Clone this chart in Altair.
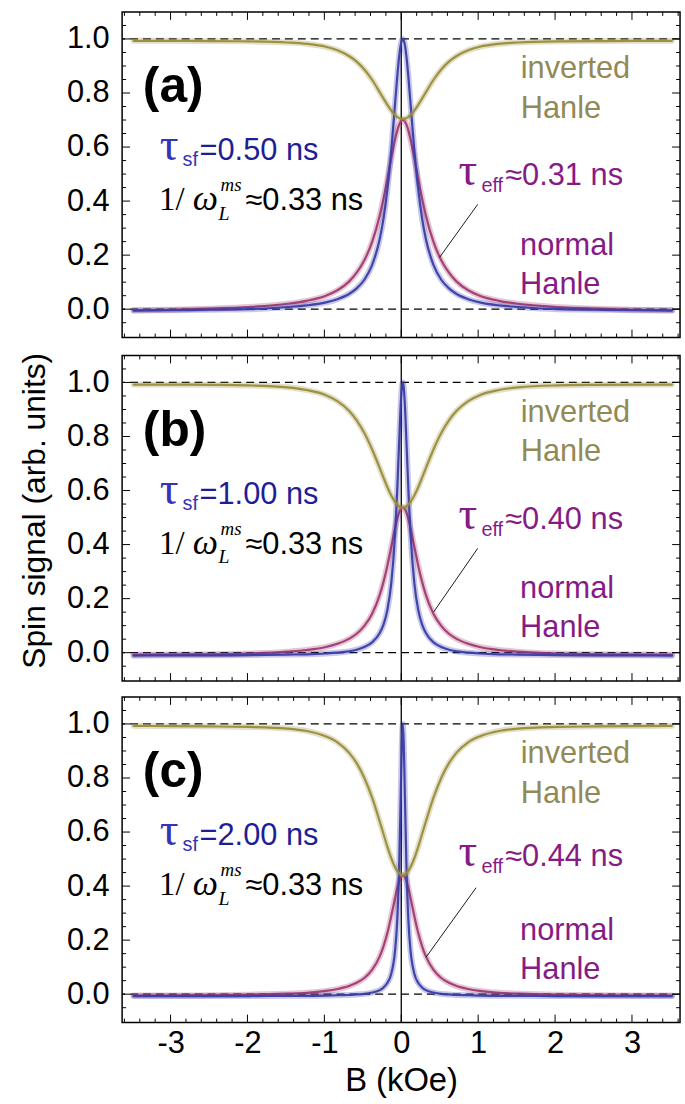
import altair as alt
import pandas as pd

# ---------------- data ----------------
B = [-3.48, -2.98, -2.48, -1.98, -1.48, -1.23, -0.98, -0.83, -0.68, -0.58, -0.48,
     -0.38, -0.28, -0.23, -0.18, -0.13, -0.08, -0.055, -0.03, -0.005, 0.0075,
     0.02,
     0.0325, 0.045, 0.07, 0.095, 0.12, 0.17, 0.22, 0.27, 0.32, 0.42, 0.52,
     0.62, 0.72, 0.87, 1.02, 1.27, 1.52, 2.02, 2.52, 3.02, 3.52]

blue_a = [-0.005, -0.004, -0.002, 0.000, 0.008, 0.014, 0.025, 0.037, 0.056, 0.077, 0.109, 0.163, 0.260, 0.337, 0.444, 0.588, 0.763, 0.851, 0.928, 0.981, 0.995,
          1.000,
          0.995, 0.981, 0.928, 0.851, 0.763, 0.588, 0.444, 0.337, 0.260, 0.163, 0.109, 0.077, 0.056, 0.037, 0.025, 0.014, 0.008, 0.000, -0.002, -0.004, -0.005]
purple_a = [-0.004, -0.002, 0.002, 0.008, 0.020, 0.031, 0.050, 0.070, 0.102, 0.135, 0.181, 0.248, 0.347, 0.411, 0.483, 0.559, 0.629, 0.658, 0.681, 0.695, 0.699,
            0.700,
            0.699, 0.695, 0.681, 0.658, 0.629, 0.559, 0.483, 0.411, 0.347, 0.248, 0.181, 0.135, 0.102, 0.070, 0.050, 0.031, 0.020, 0.008, 0.002, -0.002, -0.004]
olive_a = [0.993, 0.993, 0.992, 0.991, 0.987, 0.982, 0.971, 0.958, 0.937, 0.916, 0.887, 0.849, 0.803, 0.779, 0.756, 0.735, 0.718, 0.712, 0.708, 0.705, 0.704,
           0.704,
           0.704, 0.705, 0.708, 0.712, 0.718, 0.735, 0.756, 0.779, 0.803, 0.849, 0.887, 0.916, 0.937, 0.958, 0.971, 0.982, 0.987, 0.991, 0.992, 0.993, 0.993]

blue_b = [-0.011, -0.010, -0.010, -0.009, -0.007, -0.006, -0.003, 0.000, 0.005, 0.011, 0.021, 0.038, 0.073, 0.105, 0.159, 0.257, 0.441, 0.586, 0.762, 0.928, 0.981,
          1.000,
          0.981, 0.928, 0.762, 0.586, 0.441, 0.257, 0.159, 0.105, 0.073, 0.038, 0.021, 0.011, 0.005, 0.000, -0.003, -0.006, -0.007, -0.009, -0.010, -0.010, -0.011]
purple_b = [-0.008, -0.007, -0.006, -0.003, 0.004, 0.010, 0.021, 0.033, 0.051, 0.070, 0.099, 0.143, 0.214, 0.263, 0.323, 0.392, 0.461, 0.492, 0.516, 0.532, 0.536,
            0.537,
            0.536, 0.532, 0.516, 0.492, 0.461, 0.392, 0.323, 0.263, 0.214, 0.143, 0.099, 0.070, 0.051, 0.033, 0.021, 0.010, 0.004, -0.003, -0.006, -0.007, -0.008]
olive_b = [0.992, 0.992, 0.991, 0.989, 0.982, 0.972, 0.953, 0.931, 0.895, 0.860, 0.813, 0.753, 0.683, 0.647, 0.612, 0.582, 0.558, 0.549, 0.542, 0.538, 0.537,
           0.537,
           0.537, 0.538, 0.542, 0.549, 0.558, 0.582, 0.612, 0.647, 0.683, 0.753, 0.813, 0.860, 0.895, 0.931, 0.953, 0.972, 0.982, 0.989, 0.991, 0.992, 0.992]

blue_c = [-0.007, -0.007, -0.007, -0.007, -0.006, -0.006, -0.005, -0.004, -0.003, -0.001, 0.001, 0.006, 0.015, 0.025, 0.042, 0.076, 0.163, 0.260, 0.444, 0.763, 0.928,
          1.000,
          0.928, 0.763, 0.444, 0.260, 0.163, 0.076, 0.042, 0.025, 0.015, 0.006, 0.001, -0.001, -0.003, -0.004, -0.005, -0.006, -0.006, -0.007, -0.007, -0.007, -0.007]
purple_c = [-0.005, -0.005, -0.004, -0.002, 0.002, 0.005, 0.012, 0.019, 0.030, 0.042, 0.060, 0.090, 0.140, 0.178, 0.227, 0.289, 0.357, 0.389, 0.416, 0.434, 0.438,
            0.440,
            0.438, 0.434, 0.416, 0.389, 0.357, 0.289, 0.227, 0.178, 0.140, 0.090, 0.060, 0.042, 0.030, 0.019, 0.012, 0.005, 0.002, -0.002, -0.004, -0.005, -0.005]
olive_c = [0.993, 0.992, 0.991, 0.989, 0.983, 0.974, 0.954, 0.932, 0.894, 0.855, 0.800, 0.728, 0.639, 0.592, 0.545, 0.503, 0.470, 0.457, 0.448, 0.442, 0.440,
           0.440,
           0.440, 0.442, 0.448, 0.457, 0.470, 0.503, 0.545, 0.592, 0.639, 0.728, 0.800, 0.855, 0.894, 0.932, 0.954, 0.974, 0.983, 0.989, 0.991, 0.992, 0.993]

PANELS = ["a", "b", "c"]
CURVES = {
    "a": {"normal": purple_a, "tau_sf": blue_a, "inverted": olive_a},
    "b": {"normal": purple_b, "tau_sf": blue_b, "inverted": olive_b},
    "c": {"normal": purple_c, "tau_sf": blue_c, "inverted": olive_c},
}
TAU_SF = ["0.50", "1.00", "2.00"]
TAU_EFF = ["0.31", "0.40", "0.44"]
TAU_EFF_Y = [0.459, 0.456, 0.474]
LINE_FROM = [(0.994, 0.388), (0.994, 0.386), (0.973, 0.394)]
LINE_TO = [(0.499, 0.192), (0.422, 0.151), (0.323, 0.137)]

X_LABELS = [-3, -2, -1, 0, 1, 2, 3]
Y_LABELS = [0.0, 0.2, 0.4, 0.6, 0.8, 1.0]
X_MINOR = [-3.6, -3.4, -3.2, -2.8, -2.6, -2.4, -2.2, -1.8, -1.6, -1.4, -1.2,
           -0.8, -0.6, -0.4, -0.2, 0.2, 0.4, 0.6, 0.8, 1.2, 1.4, 1.6, 1.8,
           2.2, 2.4, 2.6, 2.8, 3.2, 3.4, 3.6]
Y_MINOR = [-0.05, 0.05, 0.1, 0.15, 0.25, 0.3, 0.35, 0.45, 0.5, 0.55, 0.65,
           0.7, 0.75, 0.85, 0.9, 0.95, 1.05]

# ---------------- styling ----------------
W, H = 562, 328
XD = [-3.63, 3.625]
YD = [-0.105, 1.1]
SANS = "Liberation Sans"
SERIF = "Liberation Serif"
FS = 31
CURVE_COL = {"normal": "#a23a70", "tau_sf": "#3a3ca8", "inverted": "#998d3a"}
BLUE_TXT = "#1e1e96"
TAU_BLUE = "#3434b4"
PURP_TXT = "#861b86"
OLIVE_TXT = "#918a55"

xs = alt.Scale(domain=XD, nice=False, zero=False)
ys = alt.Scale(domain=YD, nice=False, zero=False)


def make_panel(i):
    p = PANELS[i]
    last = (i == 2)
    if last:
        xaxis = alt.Axis(values=X_LABELS, ticks=False, tickSize=0, domain=False, grid=False,
                         labelFontSize=FS, labelFont=SANS, labelColor="black", labelPadding=6,
                         labelExpr="replace(datum.label, '\u2212', '-')",
                         title="B (kOe)", titleFontSize=33, titleFont=SANS,
                         titleFontWeight="normal", titleColor="black", titlePadding=6)
    else:
        xaxis = None
    if i == 1:
        yaxis = alt.Axis(values=Y_LABELS, format=".1f", ticks=False, tickSize=0, domain=False,
                         grid=False, labelFontSize=FS, labelFont=SANS, labelColor="black",
                         labelPadding=13, title="Spin signal (arb. units)", titleFontSize=32,
                         titleFont=SANS, titleFontWeight="normal", titleColor="black",
                         titlePadding=15, titleY=156)
    else:
        yaxis = alt.Axis(values=Y_LABELS, format=".1f", ticks=False, tickSize=0, domain=False,
                         grid=False, labelFontSize=FS, labelFont=SANS, labelColor="black",
                         labelPadding=13, title=None)

    def X(f):
        return alt.X(f"{f}:Q", scale=xs, axis=xaxis)

    def Y(f):
        return alt.Y(f"{f}:Q", scale=ys, axis=yaxis)

    layers = []
    # dashed reference lines and B=0 line
    layers.append(alt.Chart(pd.DataFrame({"h": [0.0, 1.0]})).mark_rule(
        color="black", strokeDash=[8, 5], strokeWidth=1.2).encode(y=Y("h")))
    layers.append(alt.Chart(pd.DataFrame({"z": [0.0]})).mark_rule(
        color="black", strokeWidth=1.3).encode(x=X("z")))

    # curves
    rows = []
    for name in ["normal", "tau_sf", "inverted"]:
        vals = CURVES[p][name]
        df = pd.DataFrame({"B": B, "v": vals})
        df["series"] = name
        rows.append(df)
    cdf = pd.concat(rows, ignore_index=True)
    color = alt.Color("series:N", scale=alt.Scale(domain=list(CURVE_COL.keys()),
                                                   range=list(CURVE_COL.values())), legend=None)
    for name in ["normal", "tau_sf", "inverted"]:
        sub = cdf[cdf.series == name]
        layers.append(alt.Chart(sub).mark_line(strokeWidth=6, opacity=0.28, interpolate="monotone",
                                               strokeCap="round").encode(x=X("B"), y=Y("v"), color=color))
        layers.append(alt.Chart(sub).mark_line(strokeWidth=2.2, opacity=0.95, interpolate="monotone",
                                               strokeCap="round").encode(x=X("B"), y=Y("v"), color=color))

    # frame ticks (inward)
    def yticks(vals, ln):
        d = pd.DataFrame({"t": vals})
        left = alt.Chart(d).mark_rule(color="black", strokeWidth=1).encode(
            y=Y("t"), x=alt.value(0), x2=alt.value(ln))
        right = alt.Chart(d).mark_rule(color="black", strokeWidth=1).encode(
            y=Y("t"), x=alt.value(W - ln), x2=alt.value(W))
        return [left, right]

    def xticks(vals, ln):
        d = pd.DataFrame({"t": vals})
        top = alt.Chart(d).mark_rule(color="black", strokeWidth=1).encode(
            x=X("t"), y=alt.value(0), y2=alt.value(ln))
        bot = alt.Chart(d).mark_rule(color="black", strokeWidth=1).encode(
            x=X("t"), y=alt.value(H - ln), y2=alt.value(H))
        return [top, bot]

    layers += yticks(Y_LABELS, 8) + yticks(Y_MINOR, 4) + xticks(X_LABELS, 8) + xticks(X_MINOR, 4)

    # pointer line
    (x1, y1), (x2, y2) = LINE_FROM[i], LINE_TO[i]
    layers.append(alt.Chart(pd.DataFrame({"x": [x1], "y": [y1], "x2": [x2], "y2": [y2]})).mark_rule(
        color="black", strokeWidth=0.9).encode(x=X("x"), y=Y("y"), x2="x2:Q", y2="y2:Q"))

    def txt(x, y, s, size, col, font=SANS, dx=0, dy=0, weight="normal", style="normal"):
        d = pd.DataFrame({"x": [x], "y": [y], "s": [s]})
        return alt.Chart(d).mark_text(align="left", baseline="alphabetic", font=font,
                                      fontSize=size, fontWeight=weight, fontStyle=style,
                                      color=col, dx=dx, dy=dy).encode(
            x=X("x"), y=Y("y"), text="s:N")

    # panel letter
    layers.append(txt(-3.36, 0.765, f"({p})", 50, "black", weight="bold"))
    # tau_sf
    layers.append(txt(-3.14, 0.551, "\u03c4", 47, TAU_BLUE, font=SERIF))
    layers.append(txt(-3.14, 0.551, "sf", 20, TAU_BLUE, dx=23, dy=6))
    layers.append(txt(-3.14, 0.551, f"={TAU_SF[i]} ns", FS, BLUE_TXT, dx=40))
    # 1/omega_L^ms
    layers.append(txt(-3.15, 0.367, "1/", 33, "black", font=SERIF))
    layers.append(txt(-3.15, 0.367, "\u03c9", 36, "black", font=SERIF, dx=34, style="italic"))
    layers.append(txt(-3.15, 0.367, "L", 20, "black", font=SERIF, dx=60, dy=10, style="italic"))
    layers.append(txt(-3.15, 0.367, "ms", 19, "black", font=SERIF, dx=62, dy=-19, style="italic"))
    layers.append(txt(-3.15, 0.367, "\u22480.33 ns", FS, "black", dx=87))
    # inverted Hanle
    layers.append(txt(1.553, 0.855, "inverted", FS, OLIVE_TXT))
    layers.append(txt(1.553, 0.708, "Hanle", FS, OLIVE_TXT))
    # tau_eff
    ty = TAU_EFF_Y[i]
    layers.append(txt(0.745, ty, "\u03c4", 47, PURP_TXT, font=SERIF))
    layers.append(txt(0.745, ty, "eff", 20, PURP_TXT, dx=23, dy=7))
    layers.append(txt(0.745, ty, f"\u2248{TAU_EFF[i]} ns", FS, PURP_TXT, dx=47))
    # normal Hanle
    layers.append(txt(1.545, 0.202, "normal", FS, PURP_TXT))
    layers.append(txt(1.545, 0.058, "Hanle", FS, PURP_TXT))

    return alt.layer(*layers).properties(width=W, height=H)


chart = alt.vconcat(*[make_panel(i) for i in range(3)], spacing=12).properties(
    padding={"left": 18, "top": 6, "right": 0, "bottom": 0},
    background="white",
).configure_view(stroke="black", strokeWidth=1.5)

chart.save("out.html", embed_options={"renderer": "svg", "actions": False})
